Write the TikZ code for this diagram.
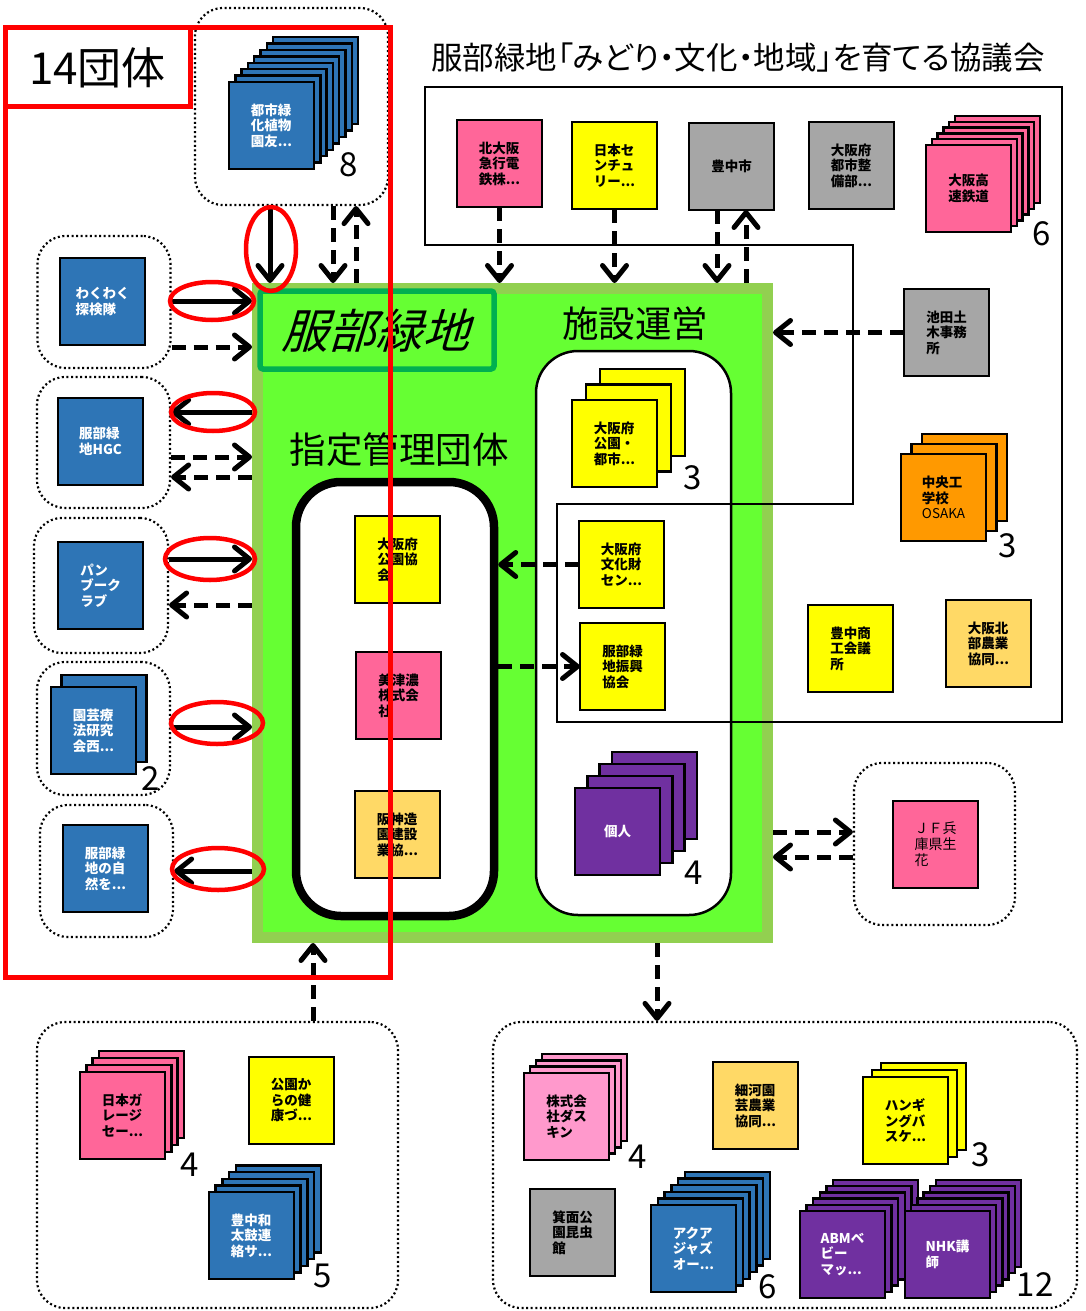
\documentclass[tikz,border=0pt]{standalone}
\usepackage{fontspec}
\setmainfont{Noto Sans CJK JP}
\newfontfamily\titlefont[RawFeature=+palt]{Noto Sans CJK JP}
\usetikzlibrary{arrows.meta}
\definecolor{cblue}{HTML}{2E75B6}
\definecolor{cpink}{HTML}{FF6699}
\definecolor{clpink}{HTML}{FF99CC}
\definecolor{cyel}{HTML}{FFFF00}
\definecolor{cgray}{HTML}{A6A6A6}
\definecolor{corange}{HTML}{FF9900}
\definecolor{clorange}{HTML}{FFD966}
\definecolor{cpurple}{HTML}{7030A0}
\definecolor{cgreen}{HTML}{66FF33}
\definecolor{clgreen}{HTML}{92D050}
\definecolor{cdgreen}{HTML}{00B050}
\definecolor{cred}{HTML}{FF0000}
\tikzset{
 sq/.style={draw=black, line width=2.5pt, minimum width=85pt, minimum height=87pt, inner sep=0pt, outer sep=0pt, align=left, anchor=north west, font=\bfseries\fontsize{13.5}{15.5}\selectfont},
 sqline/.style={draw=black, line width=2.5pt},
 dotbox/.style={draw=black, line width=2.2pt, dash pattern=on 2pt off 2.6pt, rounded corners=28pt, fill=white, inner sep=0pt},
 arr/.style={line width=5pt, -{Straight Barb[round, length=15pt, width=24pt]}},
 darr/.style={arr, dash pattern=on 14pt off 8pt},
 ell/.style={draw=cred, line width=4.5pt},
 num/.style={font=\fontsize{33}{33}\selectfont, inner sep=0pt},
 bigtxt/.style={font=\fontsize{36.5}{36.5}\selectfont, inner sep=0pt},
}
% name, x, y, n back layers, dx, dy, fill, text colour, text
\newcommand\pilestack[9]{%
  \foreach \kk in {#4,...,1}{\draw[sqline, fill=#7] ({#2+\kk*#5},{#3+\kk*#6}) rectangle ++(85,87);}
  \node[sq, fill=#7, text=#8] (#1) at (#2,#3) {#9};}
\begin{document}
\begin{tikzpicture}[x=1pt, y=-1pt]
\useasboundingbox[fill=white] (0,0) rectangle (1086,1311);

% council title
\node[font=\titlefont\fontsize{31.5}{31.5}\selectfont, inner sep=0] (title) at (738,58) {服部緑地「みどり・文化・地域」を育てる協議会};

% main green area
\node[draw=clgreen, fill=cgreen, line width=11pt, minimum width=510, minimum height=649, inner sep=0] (green) at (512.5,613) {};
\node[draw=cdgreen, line width=5.5pt, rounded corners=3pt, minimum width=234, minimum height=78, inner sep=0] (hbox) at (377,330) {};
\node[xslant=0.3, font=\fontsize{47}{47}\selectfont, inner sep=0] (hbtext) at (381,331) {服部緑地};
\node[bigtxt] (shisetsu) at (635,324) {施設運営};
\node[bigtxt] (shitei) at (399,450) {指定管理団体};

\node[draw=black, line width=8.5pt, fill=white, rounded corners=45pt, minimum width=198, minimum height=434, inner sep=0] (dbox) at (395,699) {};
\node[draw=black, line width=2.5pt, fill=white, rounded corners=42pt, minimum width=195, minimum height=564, inner sep=0] (fbox) at (633.5,633) {};

\node[sq, fill=cyel] (kyokai) at (355,516) {大阪府\\公園協\\会};
\node[sq, fill=cpink] (mizuno) at (356,652) {美津濃\\株式会\\社};
\node[sq, fill=clorange] (hanshin) at (355,791) {阪神造\\園建設\\業協...};

\pilestack{koen}{572}{400}{2}{14}{-15.5}{cyel}{black}{大阪府\\公園・\\都市...}
\node[num] (n3a) at (693,478) {3};
\pilestack{kojin}{575}{788}{3}{12.3}{-12}{cpurple}{white}{個人}
\node[num] (n4a) at (694,873) {4};

% council frame
\draw[line width=2.5pt] (425,87) -- (1062,87) -- (1062,722) -- (557,722) -- (557,504) -- (853,504) -- (853,245) -- (425,245) -- cycle;

\node[sq, fill=cpink] (kita) at (457,120) {北大阪\\急行電\\鉄株...};
\node[sq, fill=cyel] (nihon) at (572,122) {日本セ\\ンチュ\\リー...};
\node[sq, fill=cgray, align=center] (toyonaka) at (689,123) {豊中市};
\node[sq, fill=cgray] (fushi) at (809,122) {大阪府\\都市整\\備部...};
\pilestack{kosoku}{926}{145}{5}{5.8}{-5.8}{cpink}{black}{大阪高\\速鉄道}
\node[num] (n6a) at (1042,234) {6};
\node[sq, fill=cgray] (ikeda) at (904,289) {池田土\\木事務\\所};
\pilestack{chuo}{901}{454}{2}{10.5}{-10}{corange}{black}{中央工\\学校\\{\mdseries OSAKA}}
\node[num] (n3b) at (1008,546) {3};
\node[sq, fill=cyel] (shoko) at (808,605) {豊中商\\工会議\\所};
\node[sq, fill=clorange] (nokyo) at (946,600) {大阪北\\部農業\\協同...};
\node[sq, fill=cyel] (bunka) at (579,521) {大阪府\\文化財\\セン...};
\node[sq, fill=cyel] (shinko) at (580,623) {服部緑\\地振興\\協会};

% JF
\node[dotbox, minimum width=161, minimum height=162] (gjf) at (934.5,844) {};
\node[sq, fill=cpink, font=\mdseries\fontsize{14}{16}\selectfont] (jf) at (893,801) {ＪＦ兵\\庫県生\\花};

% top group
\node[dotbox, minimum width=193, minimum height=197] (gtop) at (291.5,106.5) {};
\pilestack{toshi}{229}{82}{7}{6.3}{-6.4}{cblue}{white}{都市緑\\化植物\\園友...}
\node[num] (n8) at (349,165) {8};

% left groups
\node[dotbox, minimum width=133, minimum height=132] (g1) at (104,302) {};
\node[sq, fill=cblue, text=white] (waku) at (60,258) {わくわく\\探検隊};
\node[dotbox, minimum width=133, minimum height=131] (g2) at (103.5,442.5) {};
\node[sq, fill=cblue, text=white] (hgc) at (58,398) {服部緑\\地HGC};
\node[dotbox, minimum width=134, minimum height=135] (g3) at (101,585.5) {};
\node[sq, fill=cblue, text=white] (pan) at (58,542) {パン\\ブーク\\ラブ};
\node[dotbox, minimum width=133, minimum height=133] (g4) at (103.5,728.5) {};
\pilestack{engei}{51}{687}{1}{10.5}{-12}{cblue}{white}{園芸療\\法研究\\会西...}
\node[num] (n2) at (151,779) {2};
\node[dotbox, minimum width=133, minimum height=132] (g5) at (106.5,871) {};
\node[sq, fill=cblue, text=white] (shizen) at (63,825) {服部緑\\地の自\\然を...};

% bottom left group
\node[dotbox, minimum width=361, minimum height=286] (gbl) at (217.5,1165) {};
\pilestack{garage}{80}{1072}{3}{6.3}{-7}{cpink}{black}{日本ガ\\レージ\\セー...}
\node[num] (n4b) at (190,1165) {4};
\node[sq, fill=cyel] (kenko) at (249,1057) {公園か\\らの健\\康づ...};
\pilestack{taiko}{209}{1192}{4}{6.7}{-6.6}{cblue}{white}{豊中和\\太鼓連\\絡サ...}
\node[num] (n5) at (323,1276) {5};

% bottom right group
\node[dotbox, minimum width=584, minimum height=286] (gbr) at (785,1165) {};
\pilestack{duskin}{524}{1073}{3}{6}{-6.3}{clpink}{black}{株式会\\社ダス\\キン}
\node[num] (n4c) at (638,1157) {4};
\node[sq, fill=clorange] (hosokawa) at (713,1062) {細河園\\芸農業\\協同...};
\pilestack{hanging}{863}{1077}{2}{9}{-7}{cyel}{black}{ハンギ\\ングバ\\スケ...}
\node[num] (n3c) at (981,1155) {3};
\node[sq, fill=cgray] (konchu) at (530,1189) {箕面公\\園昆虫\\館};
\pilestack{aqua}{651}{1205}{5}{6.8}{-6.6}{cblue}{white}{アクア\\ジャズ\\オー...}
\node[num] (n6b) at (768,1287) {6};
\pilestack{abm}{800}{1211}{5}{6.6}{-6.2}{cpurple}{white}{ABMベ\\ビー\\マッ...}
\pilestack{nhk}{905}{1211}{5}{6.2}{-6.2}{cpurple}{white}{NHK講\\師}
\node[num] (n12) at (1035,1285) {12};

% connectors: top group
\draw[arr] (gtop.south -| 270,0) -- (green.north -| 270,0);
\draw[darr] (gtop.south -| 333,0) -- (green.north -| 333,0);
\draw[darr] (green.north -| 356,0) -- (gtop.south -| 356,0);
% council
\draw[darr] (kita.south) -- (kita.south |- green.north);
\draw[darr] (nihon.south) -- (nihon.south |- green.north);
\draw[darr] (toyonaka.south -| 717,0) -- (green.north -| 717,0);
\draw[darr] (green.north -| 746,0) -- (toyonaka.south -| 746,0);
\draw[darr] (ikeda.west) -- (ikeda.west -| green.east);
\draw[darr] (bunka.west) -- (bunka.west -| dbox.east);
\draw[darr] (dbox.east |- shinko.west) -- (shinko.west);
% JF
\draw[darr] (green.east |- 0,832) -- (gjf.west |- 0,832);
\draw[darr] (gjf.west |- 0,857) -- (green.east |- 0,857);
% bottom
\draw[darr] (gbl.north -| 313,0) -- (green.south -| 313,0);
\draw[darr] (green.south -| 657,0) -- (gbr.north -| 657,0);
% left
\draw[arr] (g1.east |- 0,301) -- (green.west |- 0,301);
\draw[darr] (g1.east |- 0,347) -- (green.west |- 0,347);
\draw[arr] (green.west |- 0,412) -- (g2.east |- 0,412);
\draw[darr] (g2.east |- 0,457) -- (green.west |- 0,457);
\draw[darr] (green.west |- 0,477) -- (g2.east |- 0,477);
\draw[arr] (g3.east |- 0,559) -- (green.west |- 0,559);
\draw[darr] (green.west |- 0,605) -- (g3.east |- 0,605);
\draw[arr] (g4.east |- 0,727) -- (green.west |- 0,727);
\draw[arr] (green.west |- 0,871) -- (g5.east |- 0,871);

% red highlight ellipses
\draw[ell] (271,249) ellipse [x radius=25, y radius=42];
\draw[ell] (212,301) ellipse [x radius=42, y radius=19];
\draw[ell] (213,412) ellipse [x radius=42, y radius=19];
\draw[ell] (210,559) ellipse [x radius=45, y radius=21];
\draw[ell] (217,723) ellipse [x radius=46, y radius=21];
\draw[ell] (218,869) ellipse [x radius=46, y radius=21];

% red frame
\node[draw=cred, line width=5pt, minimum width=385, minimum height=949, inner sep=0] (frame) at (197.5,502.5) {};
\node[draw=cred, line width=5pt, fill=white, minimum width=185, minimum height=79, inner sep=0, font=\fontsize{44}{44}\selectfont] (t14) at (97.5,67.5) {14団体};
\end{tikzpicture}
\end{document}
